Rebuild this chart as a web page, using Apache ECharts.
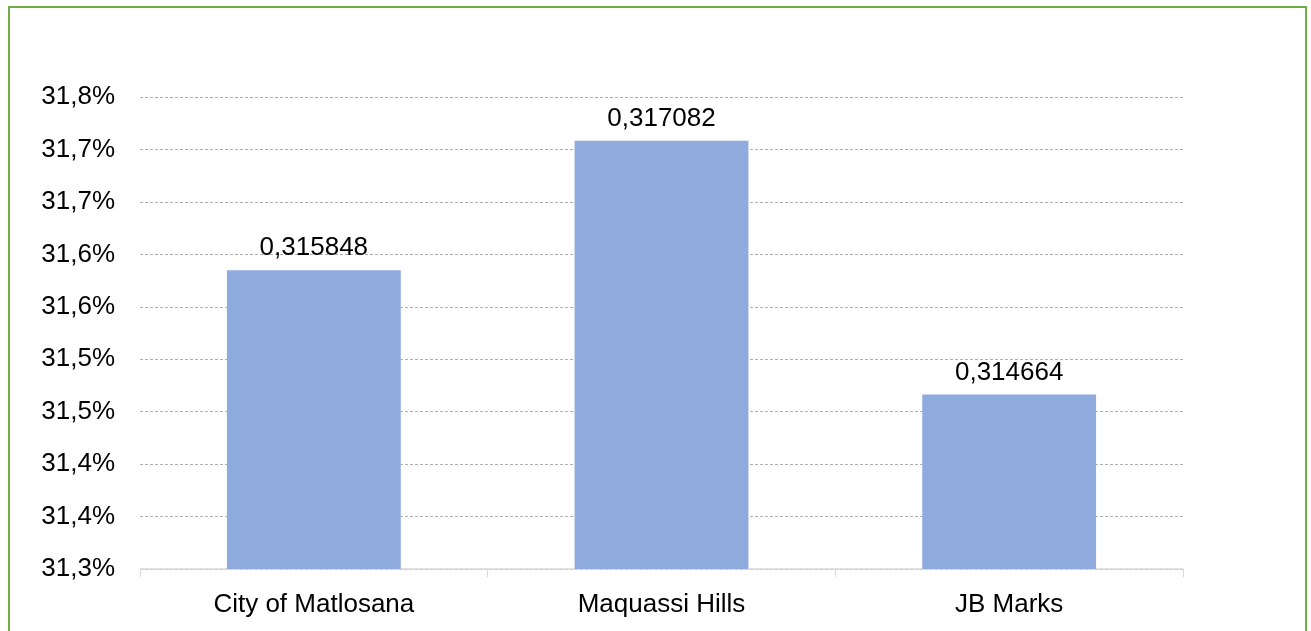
<!DOCTYPE html>
<html>
<head>
<meta charset="utf-8">
<script src="https://cdn.jsdelivr.net/npm/echarts@6/dist/echarts.min.js"></script>
<style>
  html, body { margin: 0; padding: 0; background: #fff; overflow: hidden; }
  #frame {
    position: absolute; left: 8px; top: 6px; width: 1299px; height: 640px;
    border: 2px solid #70AD47; box-sizing: border-box;
  }
  #chart { position: absolute; left: 0; top: 0; width: 1311px; height: 631px; }
</style>
</head>
<body>
<div id="frame"></div>
<div id="chart"></div>
<script>
const categories = ["City of Matlosana", "Maquassi Hills", "JB Marks"];
const values = [0.315848, 0.317082, 0.314664];
const yMin = 0.313;
const yMax = 0.3175;
const yStep = 0.0005;

const pctLabel = v => (Math.round(v * 1000 + 1e-6) / 10).toFixed(1).replace(".", ",") + "%";

const chart = echarts.init(document.getElementById("chart"));
chart.setOption({
  animation: false,
  grid: { left: 140, right: 128, top: 97, bottom: 62, containLabel: false },
  xAxis: {
    type: "category",
    data: categories,
    axisLine: { lineStyle: { color: "#d9d9d9", width: 1.5 } },
    axisTick: { show: true, length: 8, lineStyle: { color: "#d9d9d9" } },
    axisLabel: { color: "#000", fontSize: 26, fontFamily: "Liberation Sans, Arial", margin: 23 }
  },
  yAxis: {
    type: "value",
    min: yMin,
    max: yMax,
    interval: yStep,
    axisLine: { show: false },
    axisTick: { show: false },
    splitLine: { lineStyle: { color: "#b0b0b0", type: [3, 2], width: 1 } },
    axisLabel: {
      color: "#000", fontSize: 26, fontFamily: "Liberation Sans, Arial", margin: 25,
      formatter: pctLabel
    }
  },
  series: [{
    type: "bar",
    data: values,
    barWidth: "50%",
    itemStyle: { color: "#8FAADC" },
    label: {
      show: true,
      position: "top",
      distance: 9,
      color: "#000",
      fontSize: 26,
      fontFamily: "Liberation Sans, Arial",
      formatter: p => String(p.value).replace(".", ",")
    }
  }]
});
</script>
</body>
</html>
